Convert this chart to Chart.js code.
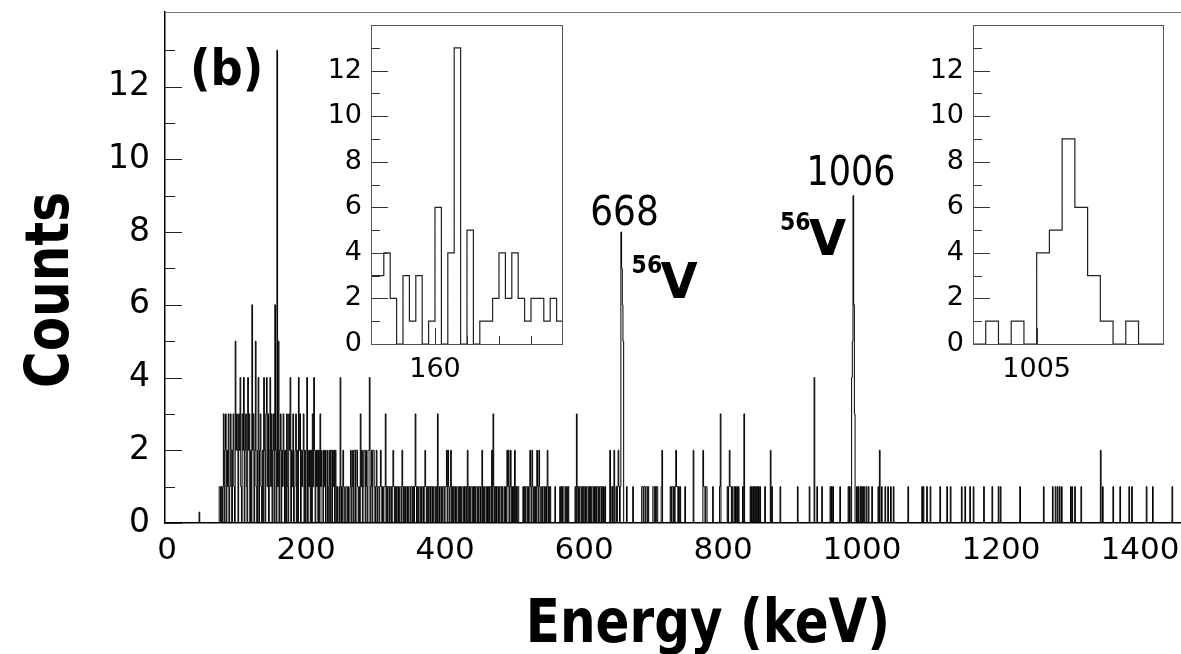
<!DOCTYPE html>
<html>
<head>
<meta charset="utf-8">
<script src="https://cdn.jsdelivr.net/npm/chart.js@4.4.1/dist/chart.umd.min.js"></script>
<style>
  body { margin: 0; background: #fff; }
  #wrap { position: relative; width: 1181px; height: 654px; overflow: hidden; }
  canvas { position: absolute; }
</style>
</head>
<body>
<div id="wrap">
  <canvas id="main" width="1181" height="654" style="left:0;top:0"></canvas>
  <canvas id="insetL" width="260" height="380" style="left:310px;top:13px"></canvas>
  <canvas id="insetR" width="275" height="380" style="left:900px;top:13px"></canvas>
</div>
<script>
// Counts per 1 keV bin (0 - 699 keV, dense part)
const c0000 = [
  0,0,0,0,0,0,0,0,0,0, 0,0,0,0,0,0,0,0,0,0, 0,0,0,0,0,0,0,0,0,0, 0,0,0,0,0,0,0,0,0,0,
  0,0,0,0,0,0,0.3,0,0,0, 0,0,0,0,0,0,0,0,0,0, 0,0,0,0,0,0,0,0,0,0, 0,0,0,0,0,1,1,0,1,0,
  1,3,0,2,3,0,2,1,3,0, 1,3,2,0,2,3,1,0,5,2
];
const c0100 = [
  3,2,0,3,2,4,1,0,3,2, 4,0,2,3,1,0,4,2,3,0, 2,0,6,2,3,0,2,5,1,0, 2,4,0,2,3,1,0,2,0,4,
  2,0,3,4,1,3,0,2,4,1, 3,0,2,3,0,6,2,0,13,1, 5,0,2,3,0,2,1,3,2,0, 2,0,3,1,0,3,2,4,0,2,
  1,3,0,1,2,3,0,2,0,4, 2,3,0,2,1,2,3,0,2,0
];
const c0200 = [
  2,4,0,2,1,2,0,2,0,3, 1,4,2,0,2,1,2,0,2,0, 3,1,2,0,0,2,1,2,0,0, 2,0,1,2,0,2,2,0,2,1,
  2,0,2,1,0,1,0,0,1,4, 0,1,0,2,1,0,0,1,1,0, 1,0,0,1,2,0,1,2,0,2, 2,0,2,2,1,0,1,0,3,1,
  2,0,1,2,2,0,2,1,0,2, 2,4,0,1,2,0,2,2,1,0
];
const c0300 = [
  1,2,0,1,1,0,1,2,1,0, 1,0,1,1,3,0,1,0,1,1, 0,1,1,0,1,2,1,0,1,0, 1,1,0,1,0,1,1,0,2,1,
  0,1,0,1,1,0,1,0,1,1, 0,1,1,0,1,0,1,3,1,0, 1,0,1,1,0,1,0,1,1,0, 1,2,1,0,1,0,1,1,0,1,
  1,0,1,0,1,1,0,1,0,3, 1,0,1,1,0,1,0,1,1,0
];
const c0400 = [
  1,1,2,0,2,1,0,1,2,0, 1,0,1,1,0,1,0,1,1,0, 1,0,1,0,1,1,0,1,0,1, 1,0,2,1,0,1,0,1,1,0,
  1,0,1,0,1,1,0,1,0,1, 1,0,1,2,0,1,0,1,1,0, 1,0,1,0,1,1,0,2,0,3, 1,0,1,0,1,1,0,1,0,1,
  1,0,1,0,0,1,0,1,0,2, 1,2,0,1,2,0,1,0,1,0
];
const c0500 = [
  2,0,1,0,1,1,0,0,0,0, 0,0,1,0,1,0,1,1,0,1, 0,0,2,1,0,2,1,0,1,0, 1,0,2,1,0,2,1,0,0,1,
  0,1,1,0,1,0,1,2,0,1, 0,1,0,0,0,0,0,0,1,0, 0,0,0,0,0,1,0,1,0,1, 1,0,0,1,0,1,0,1,0,0,
  0,0,0,0,0,0,0,1,0,3, 1,0,1,0,1,1,0,1,0,1
];
const c0600 = [
  1,0,1,0,1,1,0,1,0,1, 0,1,1,0,1,0,1,0,1,1, 0,1,0,1,1,0,1,0,1,0, 1,0,0,0,0,0,0,2,0,1,
  1,0,1,2,0,0,1,0,1,2, 1,0,1,8,7,6,5,0,0,0, 0,1,0,0,0,0,0,0,0,0, 1,0,0,0,0,0,0,0,0,0,
  0,0,0,1,1,0,1,1,0,1, 1,0,1,0,0,0,0,0,0,1
];
// Sparse part above 700 keV: bin energies by count
const hits1 = [700,702,704,705,711,724,726,727,729,731,733,734,736,738,745,772,773,775,776,785,
  795,806,808,810,811,813,816,818,820,822,828,839,841,843,845,847,849,851,853,860,870,882,907,
  924,935,942,954,956,958,968,980,982,992,994,997,999,1001,1003,1006,1009,1014,1023,1028,1033,
  1037,1041,1045,1066,1086,1088,1093,1098,1112,1122,1127,1143,1148,1155,1160,1175,1187,1196,
  1199,1227,1261,1274,1278,1281,1284,1287,1300,1302,1306,1315,1346,1361,1371,1384,1388,1409,
  1418,1446];
const hits2 = [712,732,757,771,809,868,1025,1343];
const hits3 = [796,830];
const hits4 = [931];
const peakE = [985,986,987,988,989];
const peakC = [4,5,9,6,3];

const xTicks = [0,200,400,600,800,1000,1200,1400];
const yTicks = [0,2,4,6,8,10,12];

// Insets: 160 keV region (1 keV bins) and 1006 keV region (0.4 keV bins)
const inLEdges = [150,151,152,153,154,155,156,157,158,159,160,161,162,163,164,165,166,167,168,169,
  170,171,172,173,174,175,176,177,178,179,180];
const inLCounts = [3,3,4,2,0,3,1,3,0,1,6,0,4,13,0,5,0,1,1,2,4,2,4,2,1,2,2,1,2,1];
const inREdges = [1003.0,1003.4,1003.8,1004.2,1004.6,1005.0,1005.4,1005.8,1006.2,1006.6,1007.0,
  1007.4,1007.8,1008.2,1008.6,1009.0];
const inRCounts = [0,1,0,1,0,4,5,9,6,3,1,0,1,0,0];

const FONT = 'DejaVu Sans';

// build main histogram
const counts = [c0000, c0100, c0200, c0300, c0400, c0500, c0600].flat();
while (counts.length < 1460) counts.push(0);
hits1.forEach(e => { counts[e] = 1; });
hits2.forEach(e => { counts[e] = 2; });
hits3.forEach(e => { counts[e] = 3; });
hits4.forEach(e => { counts[e] = 4; });
peakE.forEach((e, i) => { counts[e] = peakC[i]; });
const mainPoints = counts.map((c, e) => ({ x: e, y: c }));
mainPoints.push({ x: 1460, y: 0 });

function histPoints(edges, vals) {
  const pts = vals.map((v, i) => ({ x: edges[i], y: v }));
  pts.push({ x: edges[edges.length - 1], y: vals[vals.length - 1] });
  return pts;
}

// keep the plot box exactly where it is in the figure
const fixX = h => s => { s.height = h; s.paddingLeft = 0; s.paddingRight = 0; };
const fixY = w => s => { s.width = w; s.paddingTop = 0; s.paddingBottom = 0; };

// tick marks drawn inward from the left axis (and bottom, for insets)
const tickMarks = {
  id: 'tickMarks',
  afterDraw(chart, args, opts) {
    const { ctx, chartArea: a, scales: { x, y } } = chart;
    ctx.save();
    ctx.strokeStyle = opts.color || '#333';
    ctx.lineWidth = 1;
    for (let v = 0; v <= opts.yMax; v++) {
      const py = Math.round(y.getPixelForValue(v)) + 0.5;
      const len = v % 2 === 0 ? opts.major : opts.minor;
      ctx.beginPath(); ctx.moveTo(a.left, py); ctx.lineTo(a.left + len, py); ctx.stroke();
    }
    (opts.xMarks || []).forEach(([v, len]) => {
      const px = Math.round(x.getPixelForValue(v)) + 0.5;
      ctx.beginPath(); ctx.moveTo(px, a.bottom); ctx.lineTo(px, a.bottom - len); ctx.stroke();
    });
    if (opts.frame) {
      ctx.strokeStyle = opts.frame;
      ctx.strokeRect(a.left + 0.5, a.top + 0.5, a.right - a.left - 1, a.bottom - a.top);
    }
    if (opts.topLine) {
      ctx.strokeStyle = opts.topLine;
      ctx.beginPath(); ctx.moveTo(a.left, a.top + 0.5); ctx.lineTo(a.right, a.top + 0.5); ctx.stroke();
    }
    ctx.restore();
  }
};

// the printed figure is a little taller than wide, so text is stretched vertically
function tallText(ctx, text, x, y, sy, rot) {
  ctx.save();
  ctx.translate(x, y);
  if (rot) ctx.rotate(rot);
  ctx.scale(1, sy);
  ctx.fillText(text, 0, 0);
  ctx.restore();
}

const mainText = {
  id: 'mainText',
  afterDraw(chart) {
    const { ctx, scales: { x } } = chart;
    ctx.save();
    ctx.fillStyle = '#000';
    ctx.textBaseline = 'alphabetic';
    ctx.font = 'bold 45px ' + FONT;
    tallText(ctx, '(b)', 190, 85, 1.1);
    ctx.textAlign = 'center';
    ctx.font = '36px ' + FONT;
    tallText(ctx, '668', x.getPixelForValue(654) + 3, 225, 1.15);
    ctx.font = '35px ' + FONT;
    tallText(ctx, '1006', x.getPixelForValue(987) - 2, 185, 1.15);
    ctx.textAlign = 'left';
    const iso = (px, base) => {
      ctx.font = 'bold 22px ' + FONT;
      tallText(ctx, '56', px, base - 25, 1.1);
      ctx.font = 'bold 48px ' + FONT;
      tallText(ctx, 'V', px + 29, base, 1.05);
    };
    iso(x.getPixelForValue(654) + 10, 298);
    iso(x.getPixelForValue(987) - 73, 255);
    // axis titles
    ctx.font = 'bold 50px ' + FONT;
    ctx.textAlign = 'center';
    tallText(ctx, 'Energy (keV)', 708, 642, 1.2);
    tallText(ctx, 'Counts', 68, 290, 1.2, -Math.PI / 2);
    ctx.restore();
  }
};

new Chart(document.getElementById('main'), {
  type: 'line',
  data: { datasets: [{ data: mainPoints, stepped: true, borderColor: '#000', borderWidth: 1,
    pointRadius: 0, fill: false }] },
  options: {
    responsive: false, animation: false, devicePixelRatio: 1, parsing: false, normalized: true,
    layout: { padding: { top: 12, left: 0, right: 0, bottom: 0 } },
    plugins: {
      legend: { display: false }, tooltip: { enabled: false },
      tickMarks: { yMax: 13, major: 17, minor: 10, color: '#222', topLine: '#777' }
    },
    scales: {
      x: {
        type: 'linear', min: -3, max: 1459,
        afterBuildTicks: s => { s.ticks = xTicks.map(v => ({ value: v })); },
        afterFit: fixX(131),
        grid: { display: false, drawTicks: false, tickLength: 0 },
        border: { display: true, color: '#000', width: 1.5 },
        ticks: { color: '#000', font: { family: FONT, size: 31 }, padding: 9, maxRotation: 0,
          autoSkip: false, callback: v => String(v) }
      },
      y: {
        min: 0, max: 14.05,
        afterBuildTicks: s => { s.ticks = yTicks.map(v => ({ value: v })); },
        afterFit: fixY(165),
        grid: { display: false, drawTicks: false, tickLength: 0 },
        border: { display: true, color: '#000', width: 1.5 },
        ticks: { color: '#000', font: { family: FONT, size: 33 }, padding: 15,
          callback: v => String(v) }
      }
    }
  },
  plugins: [tickMarks, mainText]
});

function inset(id, edges, vals, yWidth, padRight, tick, xMarks) {
  return new Chart(document.getElementById(id), {
    type: 'line',
    data: { datasets: [{ data: histPoints(edges, vals), stepped: true, borderColor: '#222',
      borderWidth: 1.2, pointRadius: 0, fill: false }] },
    options: {
      responsive: false, animation: false, devicePixelRatio: 1, parsing: false,
      layout: { padding: { top: 12, left: 0, right: padRight, bottom: 0 } },
      plugins: {
        legend: { display: false }, tooltip: { enabled: false },
        tickMarks: { yMax: 13, major: 17, minor: 9, color: '#333', frame: '#555', xMarks }
      },
      scales: {
        x: {
          type: 'linear', min: edges[0], max: edges[edges.length - 1],
          afterBuildTicks: s => { s.ticks = [{ value: tick }]; },
          afterFit: fixX(49),
          grid: { display: false, drawTicks: false, tickLength: 0 },
          border: { display: false },
          ticks: { color: '#000', font: { family: FONT, size: 27 }, padding: 10, maxRotation: 0,
            autoSkip: false, callback: v => String(v) }
        },
        y: {
          min: 0, max: 14,
          afterBuildTicks: s => { s.ticks = yTicks.map(v => ({ value: v })); },
          afterFit: fixY(yWidth),
          grid: { display: false, drawTicks: false, tickLength: 0 },
          border: { display: false },
          ticks: { color: '#000', font: { family: FONT, size: 27 }, padding: 9,
            callback: v => String(v) }
        }
      }
    },
    plugins: [tickMarks]
  });
}

inset('insetL', inLEdges, inLCounts, 61, 7, 160, [[160, 16], [165, 8], [170, 8], [175, 8]]);
inset('insetR', inREdges, inRCounts, 73, 11, 1005, [[1005, 16]]);
</script>
</body>
</html>
